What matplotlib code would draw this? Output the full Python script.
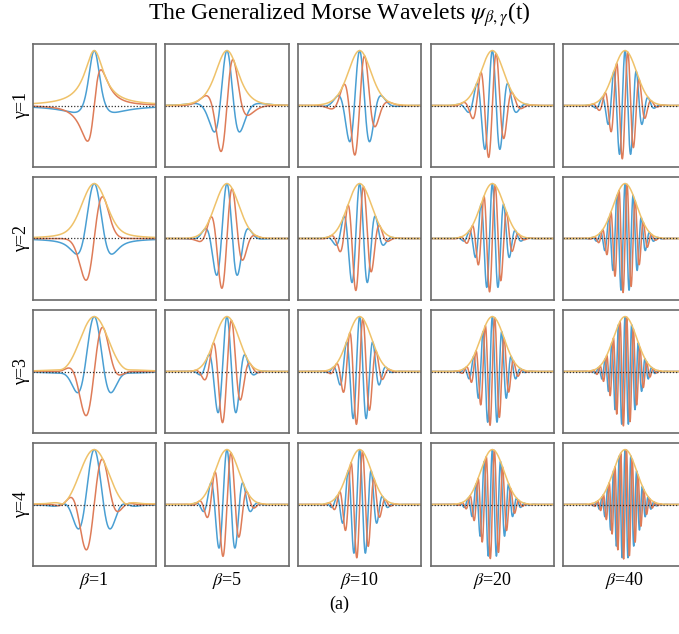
import numpy as np
import matplotlib
matplotlib.use("Agg")
import matplotlib.pyplot as plt

# Parameters of the panels
betas = [1, 5, 10, 20, 40]
gammas = [1, 2, 3, 4]
beta_labels = [r"$\beta$=1", r"$\beta$=5", r"$\beta$=10", r"$\beta$=20", r"$\beta$=40"]
gamma_labels = ["γ=1", "γ=2", "γ=3", "γ=4"]
x_half_range = 5.3

plt.rcParams['mathtext.fontset'] = 'stix'
plt.rcParams['font.family'] = ['Liberation Serif', 'DejaVu Serif']

c_real = '#4A9FD3'
c_imag = '#DE7C58'
c_env = '#EFC26A'


def morse(beta, gamma, x):
    """Generalized Morse wavelet in time, x = t*omega0/P, normalized to |psi|max = 1."""
    P = np.sqrt(beta * gamma)
    ut = np.linspace(1, 200, 200000)
    lf = beta * np.log(ut) - (beta / gamma) * (ut ** gamma - 1)
    umax = ut[np.argmax(lf < -32)] if np.any(lf < -32) else 200
    u = np.linspace(1e-9, umax, 5000)
    F = np.exp(beta * np.log(u) - (beta / gamma) * (u ** gamma - 1))
    du = u[1] - u[0]
    psi = np.empty(x.size, dtype=complex)
    for i0 in range(0, x.size, 200):
        xs = x[i0:i0 + 200]
        psi[i0:i0 + 200] = np.exp(1j * np.outer(xs * P, u)) @ F * du
    return psi / np.abs(psi).max()


W, H = 679, 634
fig = plt.figure(figsize=(W / 100, H / 100), dpi=100)

left0, top0 = 32.5, 44
aw, ah = 123.5, 123
pitch_x, pitch_y = 132.7, 133

x = np.linspace(-x_half_range, x_half_range, 1000)

for r, g in enumerate(gammas):
    for c, b in enumerate(betas):
        l = left0 + c * pitch_x
        t = top0 + r * pitch_y
        ax = fig.add_axes([l / W, 1 - (t + ah) / H, aw / W, ah / H])
        psi = morse(b, g, x)
        ax.plot(x, psi.real, color=c_real, lw=1.1)
        ax.plot(x, psi.imag, color=c_imag, lw=1.1)
        ax.plot(x, np.abs(psi), color=c_env, lw=1.1)
        ax.axhline(0, color='#333333', lw=0.9, ls=(0, (1, 1.5)))
        ax.set_xlim(-x_half_range, x_half_range)
        ax.set_ylim(-1.12, 1.12)
        ax.set_xticks([])
        ax.set_yticks([])
        for s in ax.spines.values():
            s.set_color('#6a6a6a')
            s.set_linewidth(1.2)
        if c == 0:
            ax.set_ylabel(gamma_labels[r], fontsize=13, labelpad=2)
        if r == len(gammas) - 1:
            ax.set_xlabel(beta_labels[c], fontsize=13, labelpad=3)

fig.text(0.5, 1 - 15 / H, r"The Generalized Morse Wavelets $\psi_{\beta,\gamma}$(t)",
         ha='center', va='center', fontsize=17)
fig.text(0.5, 1 - 604 / H, "(a)", ha='center', va='center', fontsize=13)

fig.savefig("out.png", dpi=100)
